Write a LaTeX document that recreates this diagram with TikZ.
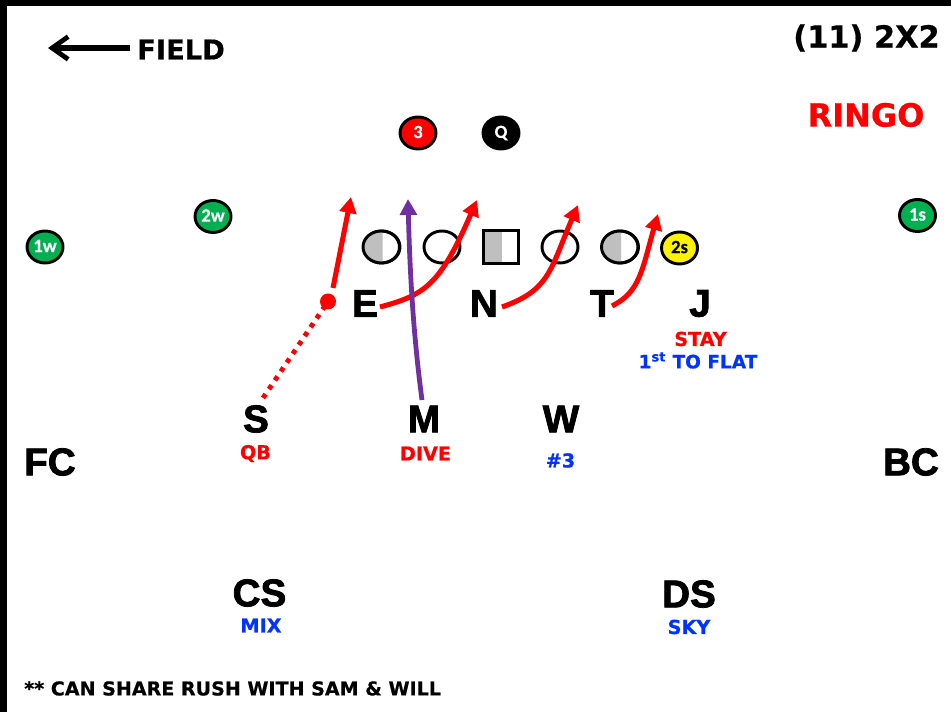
\documentclass[tikz,border=0pt]{standalone}
\usepackage{fontspec}
\newfontfamily\verd{DejaVu Sans Bold}[FakeBold=0.6]
\newfontfamily\blk{Liberation Sans Bold}[FakeBold=2]
\newfontfamily\carl{Carlito Bold}[FakeBold=0.3]
\usetikzlibrary{arrows.meta,shapes.geometric}
\definecolor{pgreen}{RGB}{0,176,80}
\definecolor{pblue}{RGB}{0,51,255}
\definecolor{ppurple}{RGB}{112,48,160}
\definecolor{pgrey}{RGB}{191,191,191}
\newcommand{\pl}[1]{\raisebox{1.5pt}{#1}}
\tikzset{
 x=0.75pt,y=-0.75pt,
 player/.style={ellipse,draw=black,line width=2.2pt,minimum width=27pt,minimum height=24pt,inner sep=0pt,font=\carl\fontsize{14}{14}\selectfont,text=white},
 lineman/.style={player,fill=white},
 big/.style={font=\blk\fontsize{29}{31}\selectfont,inner sep=0pt},
 note/.style={font=\verd\fontsize{14.4}{15}\selectfont,inner sep=0pt},
 route/.style={draw=red,line width=3.8pt,-{Triangle[length=12pt,width=12.5pt]}},
}
\begin{document}
\begin{tikzpicture}
\useasboundingbox (0,0) rectangle (951,712);
\fill[black] (0,0) rectangle (951,6.5);
\fill[black] (0,0) rectangle (6.5,712);
% header
\node[font=\verd\fontsize{20.5}{22}\selectfont,inner sep=0pt,anchor=west] (field) at (137,49.5) {FIELD};
\coordinate (fieldtip) at (48,48);
\draw[line width=3.8pt,-{Straight Barb[length=12pt,width=17pt,line width=3.6pt]}] (130,48) -- (fieldtip);
\node[font=\verd\fontsize{22.8}{24}\selectfont,inner sep=0pt,text=black] (title) at (866.5,38) {(11) 2X2};
\node[font=\verd\fontsize{24}{26}\selectfont,inner sep=0pt,text=red] (ringo) at (866,115) {RINGO};
% backs and receivers
\node[player,fill=red] (three) at (418,133) {\pl{3}};
\node[player,fill=black] (qb) at (501,133) {\pl{Q}};
\node[player,fill=pgreen] (w2) at (213,216.5) {\pl{2w}};
\node[player,fill=pgreen] (w1) at (45,247) {\pl{1w}};
\node[player,fill=pgreen] (s1) at (917.5,215.5) {\pl{1s}};
\node[player,fill=yellow,text=black] (s2) at (679.5,248) {\pl{2s}};
% line
\node[lineman] (lt) at (381.5,247) {};
\begin{scope}
\clip (362,228) rectangle (382.5,266);
\fill[pgrey] (381.5,247) ellipse (18.5 and 16);
\end{scope}
\draw[black,line width=2.2pt] (381.5,247) ellipse (18.5 and 16);
\node[lineman] (lg) at (442,247) {};
\node[lineman] (rg) at (560,247) {};
\node[lineman] (rt) at (620,247) {};
\begin{scope}
\clip (600,228) rectangle (621,266);
\fill[pgrey] (620,247) ellipse (18.5 and 16);
\end{scope}
\draw[black,line width=2.2pt] (620,247) ellipse (18.5 and 16);
\node[minimum width=26pt,minimum height=24pt,fill=white,inner sep=0pt] (ctr) at (501,247) {};
\fill[pgrey] (484,231) rectangle (502,263);
\draw[black,line width=2.2pt] (ctr.north west) rectangle (ctr.south east);
% defenders
\node[big] (E) at (365,303.5) {E};
\node[big] (N) at (484,303.5) {N};
\node[big] (T) at (602,303.5) {T};
\node[big] (J) at (700,303.5) {J};
\node[big] (S) at (256,419) {S};
\node[big] (M) at (424,419) {M};
\node[big] (W) at (561,419) {W};
\node[big] (FC) at (50,462) {FC};
\node[big] (BC) at (911,462) {BC};
\node[big] (CS) at (259.5,593) {CS};
\node[big] (DS) at (689,594) {DS};
% notes
\node[note,text=red] (stay) at (700.5,339) {STAY};
\node[note,text=pblue,font=\verd\fontsize{13.9}{15}\selectfont] (flat) at (698,360.5) {1\textsuperscript{st} TO FLAT};
\node[note,text=red] (qbn) at (255.5,453.5) {QB};
\node[note,text=red] (dive) at (425.5,453.5) {DIVE};
\node[note,text=pblue] (three3) at (560.5,460.5) {\#3};
\node[note,text=pblue] (mix) at (261,625.5) {MIX};
\node[note,text=pblue] (sky) at (689,627) {SKY};
\node[font=\verd\fontsize{14.3}{16}\selectfont,inner sep=0pt,anchor=west] (foot) at (24,688.5) {** CAN SHARE RUSH WITH SAM \& WILL};
% routes
\coordinate (dot) at (328,301.5);
\coordinate (sstart) at (263,398);
\coordinate (stip) at (351,197);
\coordinate (stail) at (333,288);
\coordinate (etail) at (380,307);
\coordinate (etip) at (477,200);
\coordinate (ntail) at (502,307);
\coordinate (ntip) at (578,205);
\coordinate (ttail) at (612,306);
\coordinate (ttip) at (658,214);
\coordinate (mtail) at (422,400);
\coordinate (mtip) at (408,199);
\draw[red,line width=3.7pt,dash pattern=on 3.5pt off 4.5pt] (sstart) -- (dot);
\fill[red] (dot) circle (8);
\draw[route] (stail) -- (stip);
\draw[route] (etail) .. controls (425,295) and (440,285) .. (etip);
\draw[route] (ntail) .. controls (550,290) and (550,270) .. (ntip);
\draw[route] (ttail) .. controls (640,292) and (642,270) .. (ttip);
\draw[draw=ppurple,line width=3.6pt,-{Triangle[length=12pt,width=12.5pt]}] (mtail) .. controls (414,340) and (410,280) .. (mtip);
\end{tikzpicture}
\end{document}
